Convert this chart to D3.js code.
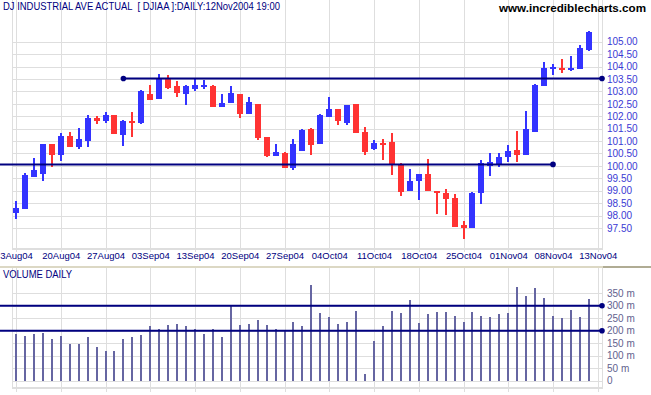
<!DOCTYPE html>
<html><head><meta charset="utf-8">
<script src="https://cdn.jsdelivr.net/npm/d3@7/dist/d3.min.js"></script>
<style>
html,body{margin:0;padding:0;background:#fff;}
svg{display:block;font-family:"Liberation Sans",Arial,sans-serif;}
</style></head>
<body>
<svg id="c" width="651" height="395"></svg>
<script>
const dates = ["13Aug04","16Aug04","17Aug04","18Aug04","19Aug04","20Aug04","23Aug04","24Aug04","25Aug04","26Aug04","27Aug04","30Aug04","31Aug04","01Sep04","02Sep04","03Sep04","07Sep04","08Sep04","09Sep04","10Sep04","13Sep04","14Sep04","15Sep04","16Sep04","17Sep04","20Sep04","21Sep04","22Sep04","23Sep04","24Sep04","27Sep04","28Sep04","29Sep04","30Sep04","01Oct04","04Oct04","05Oct04","06Oct04","07Oct04","08Oct04","11Oct04","12Oct04","13Oct04","14Oct04","15Oct04","18Oct04","19Oct04","20Oct04","21Oct04","22Oct04","25Oct04","26Oct04","27Oct04","28Oct04","29Oct04","01Nov04","02Nov04","03Nov04","04Nov04","05Nov04","08Nov04","09Nov04","10Nov04","11Nov04","12Nov04"];
const open  = [98.12,98.28,99.57,99.69,100.88,100.45,101.20,100.76,101.00,101.94,101.80,102.04,101.26,101.80,101.73,102.88,102.71,103.49,103.23,102.91,103.10,103.18,103.22,102.38,102.54,102.89,102.10,102.49,101.16,100.41,100.52,99.92,100.60,101.49,100.89,101.97,102.28,101.71,102.49,101.35,100.67,100.91,100.95,100.09,99.00,99.38,99.66,98.99,98.90,98.70,97.61,97.51,98.90,100.01,100.08,100.34,100.63,100.45,101.38,103.23,103.89,103.94,103.85,103.91,104.65];
const high  = [98.59,99.73,100.33,100.90,100.90,101.32,101.36,101.53,102.04,102.02,102.17,102.06,101.83,102.16,103.07,103.26,103.70,103.66,103.42,103.27,103.54,103.46,103.24,102.89,103.22,102.91,102.77,102.50,101.18,100.88,100.54,101.08,101.47,101.52,102.07,102.79,102.30,102.47,102.51,101.55,101.04,101.08,101.31,100.10,99.88,99.68,100.28,99.00,99.07,98.87,97.79,98.93,100.24,100.51,100.53,100.84,101.41,102.21,103.28,104.18,104.10,104.30,104.42,104.87,105.42];
const low   = [97.87,98.26,99.55,99.40,99.97,100.20,100.75,100.69,100.77,101.67,101.74,101.28,100.81,101.18,101.70,102.65,102.70,103.11,102.79,102.46,103.00,103.11,102.36,102.36,102.52,101.94,102.08,101.05,100.36,100.40,99.91,99.85,100.58,100.45,100.87,101.95,101.65,101.65,101.32,100.45,100.65,100.25,99.65,98.80,98.98,98.64,98.98,98.08,98.04,97.53,97.07,97.50,98.46,99.61,99.97,100.17,100.17,100.43,101.36,103.21,103.67,103.75,103.84,103.89,104.63];
const close = [98.30,99.63,99.82,100.88,100.45,101.22,100.77,101.07,101.93,101.82,102.04,101.30,101.81,101.76,103.03,102.67,103.53,103.15,102.92,103.22,103.26,103.25,102.38,102.52,102.92,102.09,102.56,101.11,100.40,100.56,99.93,100.87,101.45,100.86,102.05,102.28,101.81,102.45,101.34,100.56,100.91,100.85,100.06,98.96,99.40,99.66,99.00,98.90,98.68,97.55,97.49,98.91,100.10,100.14,100.34,100.61,100.42,101.47,103.26,103.93,103.98,103.89,103.94,104.73,105.40];
const volume = [188,180,188,192,168,180,148,148,176,136,120,120,168,176,184,221,209,225,229,221,209,188,209,176,303,225,229,245,225,209,205,237,221,382,273,257,229,237,281,27,160,221,281,273,322,233,269,277,277,261,237,277,261,257,269,273,374,338,370,330,261,253,285,257,326];
const xTickIndex = [0,5,10,15,20,25,30,35,40,45,50,55,60,65];
const xTickLabels = ["3Aug04","20Aug04","27Aug04","03Sep04","13Sep04","20Sep04","27Sep04","04Oct04","11Oct04","18Oct04","25Oct04","01Nov04","08Nov04","13Nov04"];
const priceTicks = [97.5,98,98.5,99,99.5,100,100.5,101,101.5,102,102.5,103,103.5,104,104.5,105];
const volTicks = [0,50,100,150,200,250,300,350];
const volTickLabels = ["0","50 m","100 m","150 m","200 m","250 m","300 m","350 m"];
const resistanceLevel = 103.52, resistanceStartIdx = 12;
const supportLevel = 100.06, supportEndIdx = 60;
const volLines = [300, 200];
const titleText = "DJ INDUSTRIAL AVE ACTUAL  [ DJIAA ]:DAILY:12Nov2004 19:00";
const volTitle = "VOLUME DAILY";
const siteText = "www.incrediblecharts.com";

const svg = d3.select("#c");
const L = 12, R = 602;
const pTop = 0, pBot = 248, vTop = 268, vBot = 387;
const x = d3.scaleLinear().domain([0, 65]).range([16, 597.75]);
const y = d3.scaleLinear().domain([97.5, 105]).range([228, 41.7]);
const yv = d3.scaleLinear().domain([0, 350]).range([380.7, 293.3]);
const grid = "#dedede";
const navy = "#000080";

// backgrounds/grids
const g = svg.append("g").attr("shape-rendering", "crispEdges");
// horizontal price grid
g.selectAll(".hp").data(priceTicks).join("line")
  .attr("x1", L).attr("x2", R).attr("y1", d => Math.round(y(d)) + 0.5).attr("y2", d => Math.round(y(d)) + 0.5)
  .attr("stroke", grid);
// horizontal volume grid
g.selectAll(".hv").data(volTicks).join("line")
  .attr("x1", L).attr("x2", R).attr("y1", d => Math.round(yv(d)) + 0.5).attr("y2", d => Math.round(yv(d)) + 0.5)
  .attr("stroke", grid);
// vertical grid
xTickIndex.forEach(i => {
  const xx = Math.round(x(i)) + 0.5;
  g.append("line").attr("x1", xx).attr("x2", xx).attr("y1", pTop).attr("y2", pBot + 4).attr("stroke", grid);
  g.append("line").attr("x1", xx).attr("x2", xx).attr("y1", vTop).attr("y2", vBot + 5).attr("stroke", grid);
});
// borders
[[L + 0.5, pTop, pBot], [R + 0.5, pTop, pBot], [L + 0.5, vTop, vBot], [R + 0.5, vTop, vBot]].forEach(([xx, a, b]) => {
  g.append("line").attr("x1", xx).attr("x2", xx).attr("y1", a).attr("y2", b).attr("stroke", grid);
});
g.append("line").attr("x1", L).attr("x2", R + 1).attr("y1", pBot + 0.5).attr("y2", pBot + 0.5).attr("stroke", grid).attr("stroke-width", 2);
g.append("line").attr("x1", L).attr("x2", R + 1).attr("y1", vBot + 0.5).attr("y2", vBot + 0.5).attr("stroke", grid).attr("stroke-width", 2);
g.append("line").attr("x1", 0).attr("x2", R + 1).attr("y1", 266.5).attr("y2", 266.5).attr("stroke", "#dcd8c4").attr("stroke-width", 2);
g.append("line").attr("x1", R + 1).attr("x2", 651).attr("y1", 266.5).attr("y2", 266.5).attr("stroke", "#b0ac94").attr("stroke-width", 2);

// titles
svg.append("text").attr("x", 3).attr("y", 10).attr("fill", navy).attr("font-size", 10.5)
  .attr("textLength", 277).attr("lengthAdjust", "spacingAndGlyphs").attr("xml:space", "preserve").text(titleText);
svg.append("text").attr("x", 499).attr("y", 12).attr("fill", "#000").attr("font-size", 11.5).attr("font-weight", "bold")
  .attr("textLength", 147).attr("lengthAdjust", "spacingAndGlyphs").text(siteText);
svg.append("text").attr("x", 3).attr("y", 278).attr("fill", navy).attr("font-size", 10)
  .attr("textLength", 69).attr("lengthAdjust", "spacingAndGlyphs").text(volTitle);

// x axis labels
const xa = d3.axisBottom(x).tickValues(xTickIndex).tickSize(0).tickPadding(0)
  .tickFormat((d, i) => xTickLabels[i]);
const xg = svg.append("g").attr("transform", "translate(0,252)").call(xa);
xg.select(".domain").remove();
xg.selectAll("text").attr("fill", navy).attr("font-size", 9.5).attr("font-family", "Liberation Sans, Arial, sans-serif").attr("dy", "0.75em");

// price axis labels
const pa = d3.axisRight(y).tickValues(priceTicks).tickSize(0).tickPadding(0).tickFormat(d3.format(".2f"));
const pg = svg.append("g").attr("transform", "translate(607,0)").call(pa);
pg.select(".domain").remove();
pg.selectAll("text").attr("fill", "#3a3ad4").attr("font-size", 10).attr("font-family", "Liberation Sans, Arial, sans-serif");

// volume axis labels
const va = d3.axisRight(yv).tickValues(volTicks).tickSize(0).tickPadding(0).tickFormat((d, i) => volTickLabels[i]);
const vg = svg.append("g").attr("transform", "translate(607,0)").call(va);
vg.select(".domain").remove();
vg.selectAll("text").attr("fill", "#62628e").attr("font-size", 10).attr("font-family", "Liberation Sans, Arial, sans-serif");

// volume bars
svg.append("g").attr("shape-rendering", "crispEdges").selectAll("rect").data(volume).join("rect")
  .attr("x", (d, i) => Math.round(x(i)) - 1).attr("width", 2)
  .attr("y", d => yv(d)).attr("height", d => yv(0) - yv(d))
  .attr("fill", "#6666a2");

// volume lines
volLines.forEach(v => {
  svg.append("line").attr("x1", 0).attr("x2", R).attr("y1", yv(v)).attr("y2", yv(v)).attr("stroke", navy).attr("stroke-width", 2);
  svg.append("circle").attr("cx", R).attr("cy", yv(v)).attr("r", 2.8).attr("fill", navy);
});

// candles
const cg = svg.append("g").attr("shape-rendering", "crispEdges");
dates.forEach((dt, i) => {
  const cx = Math.round(x(i));
  const up = close[i] >= open[i];
  const col = up ? "#3333ff" : "#ff3333";
  const yH = y(high[i]), yL = y(low[i]);
  cg.append("rect").attr("x", cx - 1).attr("width", 2).attr("y", yH).attr("height", Math.max(1, yL - yH)).attr("fill", col);
  const top = y(Math.max(open[i], close[i])), bot = y(Math.min(open[i], close[i]));
  const h = Math.max(2, bot - top);
  cg.append("rect").attr("x", cx - 3).attr("width", 6).attr("y", h === 2 ? (top + bot) / 2 - 1 : top).attr("height", h).attr("fill", col);
});

// trendlines
svg.append("line").attr("x1", x(resistanceStartIdx)).attr("x2", R).attr("y1", y(resistanceLevel)).attr("y2", y(resistanceLevel))
  .attr("stroke", navy).attr("stroke-width", 2);
svg.append("circle").attr("cx", x(resistanceStartIdx)).attr("cy", y(resistanceLevel)).attr("r", 2.8).attr("fill", navy);
svg.append("circle").attr("cx", R).attr("cy", y(resistanceLevel)).attr("r", 2.8).attr("fill", navy);
svg.append("line").attr("x1", 0).attr("x2", x(supportEndIdx)).attr("y1", y(supportLevel)).attr("y2", y(supportLevel))
  .attr("stroke", navy).attr("stroke-width", 2);
svg.append("circle").attr("cx", x(supportEndIdx)).attr("cy", y(supportLevel)).attr("r", 2.8).attr("fill", navy);
</script>
</body></html>
